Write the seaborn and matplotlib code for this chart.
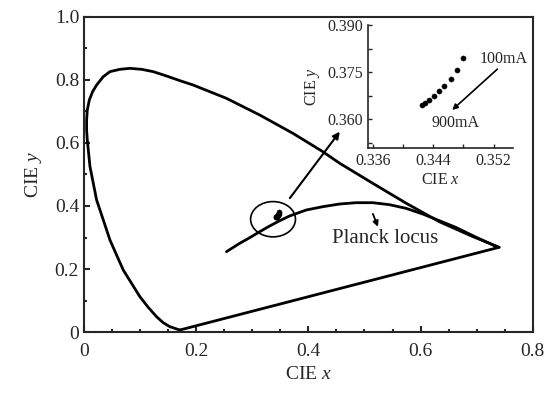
import numpy as np
import matplotlib
matplotlib.use("Agg")
import matplotlib.pyplot as plt
import seaborn as sns
from matplotlib.patches import Ellipse
from matplotlib.ticker import MultipleLocator, FormatStrFormatter

# Spectral locus (blue end -> green top -> red end)
locus_x = [0.1708, 0.1530, 0.1412, 0.1293, 0.1145, 0.0996, 0.0848, 0.0700, 0.0581,
           0.0463, 0.0374, 0.0285, 0.0225, 0.0166, 0.0107, 0.0083, 0.0059, 0.0047,
           0.0047, 0.0059, 0.0095, 0.0154, 0.0225, 0.0344, 0.0463, 0.0641, 0.0819,
           0.1026, 0.1234, 0.1471, 0.1708, 0.1945, 0.2539, 0.3132, 0.3724, 0.4258,
           0.4555, 0.5148, 0.5741, 0.6335, 0.6930, 0.7400]
locus_y = [0.0063, 0.0169, 0.0296, 0.0487, 0.0783, 0.1122, 0.1545, 0.1968, 0.2444,
           0.2921, 0.3397, 0.3873, 0.4190, 0.4720, 0.5249, 0.5672, 0.6095, 0.6413,
           0.6730, 0.7048, 0.7365, 0.7630, 0.7841, 0.8106, 0.8265, 0.8339, 0.8370,
           0.8339, 0.8265, 0.8127, 0.7980, 0.7841, 0.7418, 0.6889, 0.6307, 0.5724,
           0.5360, 0.4720, 0.4090, 0.3500, 0.3030, 0.2690]

# Planck locus
planck_x = [0.2540, 0.2776, 0.2954, 0.3132, 0.3310, 0.3488, 0.3665, 0.3962, 0.4259,
            0.4555, 0.4852, 0.5148, 0.5445, 0.5741, 0.6038, 0.6335, 0.6630, 0.7000, 0.7380]
planck_y = [0.2550, 0.2816, 0.2994, 0.3184, 0.3365, 0.3533, 0.3683, 0.3873, 0.3979,
            0.4063, 0.4105, 0.4105, 0.4042, 0.3926, 0.3746, 0.3533, 0.3320, 0.3000, 0.2690]

# Measured colour coordinates, 100mA ... 900mA
current_ma = [100, 200, 300, 400, 500, 600, 700, 800, 900]
cie_x = [0.3480, 0.3471, 0.3463, 0.3454, 0.3447, 0.3441, 0.3434, 0.3429, 0.3425]
cie_y = [0.3796, 0.3756, 0.3727, 0.3706, 0.3689, 0.3674, 0.3663, 0.3653, 0.3645]

sns.set_style("ticks")
plt.rcParams["font.family"] = ["Liberation Serif", "DejaVu Serif"]
plt.rcParams["mathtext.fontset"] = "custom"
plt.rcParams["mathtext.rm"] = "Liberation Serif"
plt.rcParams["mathtext.it"] = "Liberation Serif:italic"

fig = plt.figure(figsize=(5.5, 3.96), dpi=100)
ax = fig.add_axes([0.1527, 0.1616, 0.816, 0.7955])

line_kw = dict(sort=False, estimator=None, color="black", lw=2, ax=ax)
sns.lineplot(x=locus_x, y=locus_y, **line_kw)
sns.lineplot(x=[locus_x[0], locus_x[-1]], y=[locus_y[0], locus_y[-1]], **line_kw)
sns.lineplot(x=planck_x, y=planck_y, **line_kw)
sns.scatterplot(x=cie_x, y=cie_y, color="black", s=14, edgecolor="black", ax=ax, zorder=5)

ax.add_patch(Ellipse((0.337, 0.358), 0.08, 0.112, fill=False, lw=1.2, edgecolor="black"))
ax.annotate("", xy=(0.456, 0.636), xytext=(0.367, 0.425),
            arrowprops=dict(arrowstyle="-|>", color="black", lw=1.5, mutation_scale=10,
                            shrinkA=0, shrinkB=0))
ax.annotate("", xy=(0.524, 0.334), xytext=(0.515, 0.375),
            arrowprops=dict(arrowstyle="-|>", color="black", lw=1.3, mutation_scale=8,
                            shrinkA=0, shrinkB=0))
ax.text(0.536, 0.297, "Planck locus", fontsize=15, ha="center", va="center")

ax.set_xlim(0, 0.8)
ax.set_ylim(0, 1.0)
ax.set_xticks([0, 0.2, 0.4, 0.6, 0.8])
ax.set_xticklabels(["0", "0.2", "0.4", "0.6", "0.8"])
ax.set_yticks([0, 0.2, 0.4, 0.6, 0.8, 1.0])
ax.set_yticklabels(["0", "0.2", "0.4", "0.6", "0.8", "1.0"])
ax.xaxis.set_minor_locator(MultipleLocator(0.05))
ax.yaxis.set_minor_locator(MultipleLocator(0.1))
ax.tick_params(which="both", direction="in", width=1.5, labelsize=14)
ax.tick_params(which="major", length=4)
ax.tick_params(which="minor", length=2.5)
ax.tick_params(axis="x", pad=8)
for s in ax.spines.values():
    s.set_linewidth(1.5)
ax.set_xlabel("CIE $\\mathit{x}$", fontsize=14, labelpad=4)
ax.set_ylabel("CIE $\\mathit{y}$", fontsize=14, labelpad=8)

# inset
ins = fig.add_axes([0.669, 0.6255, 0.264, 0.311])
sns.scatterplot(x=cie_x, y=cie_y, color="black", s=14, edgecolor="black", ax=ins)
ins.set_xlim(0.3353, 0.3546)
ins.set_ylim(0.3508, 0.390)
ins.set_xticks([0.336, 0.344, 0.352])
ins.set_yticks([0.360, 0.375, 0.390])
ins.xaxis.set_minor_locator(MultipleLocator(0.004))
ins.yaxis.set_minor_locator(MultipleLocator(0.0075))
ins.xaxis.set_major_formatter(FormatStrFormatter("%.3f"))
ins.yaxis.set_major_formatter(FormatStrFormatter("%.3f"))
ins.tick_params(which="both", direction="in", width=1.0, labelsize=11.5, length=3)
ins.spines["top"].set_visible(False)
ins.spines["right"].set_visible(False)
for s in ["left", "bottom"]:
    ins.spines[s].set_linewidth(1.2)
ins.set_facecolor("none")
ins.set_xlabel("CIE $\\mathit{x}$", fontsize=11.5, labelpad=2)
ins.set_ylabel("CIE $\\mathit{y}$", fontsize=11.5, labelpad=4)
ins.annotate("", xy=(0.3465, 0.3630), xytext=(0.3525, 0.3760),
             arrowprops=dict(arrowstyle="-|>", color="black", lw=1.2, mutation_scale=8,
                             shrinkA=0, shrinkB=0))
ins.text(0.3501, 0.3792, "100mA", fontsize=11.5, ha="left", va="center")
ins.text(0.3438, 0.3588, "900mA", fontsize=11.5, ha="left", va="center")

fig.savefig("out.png", dpi=100)
